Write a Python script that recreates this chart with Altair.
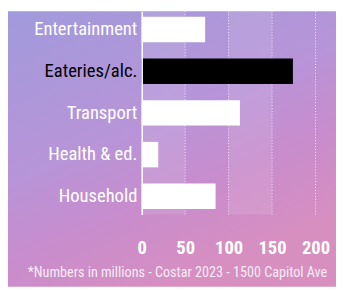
import altair as alt
import pandas as pd

categories = ["Entertainment", "Eateries/alc.", "Transport", "Health & ed.", "Household"]
values = [73, 174, 113, 19, 85]
highlight = "Eateries/alc."
x_ticks = [0, 50, 100, 150, 200]
grid_values = [50, 100, 150, 200]
band_starts = [0, 100]
band_ends = [50, 150]
footnote = "*Numbers in millions - Costar 2023 - 1500 Capitol Ave"

df = pd.DataFrame({"category": categories, "value": values})

W, H = 178, 208
PAD_L, PAD_T, PAD_R, PAD_B = 137, 0, 21, 74
TOTAL_W, TOTAL_H = PAD_L + W + PAD_R, PAD_T + H + PAD_B

COND = "Roboto Condensed"

xscale = alt.Scale(domain=[0, 200], nice=False)
x_axis = alt.Axis(
    values=x_ticks, title=None, grid=False, domain=False, ticks=False,
    labelFont=COND, labelFontWeight="bold", labelFontSize=19,
    labelColor="white", labelPadding=25, labelFlush=False, zindex=1,
)

bg = alt.Chart(alt.Data(values=[{}])).mark_rect(
    fill={
        "gradient": "linear",
        "x1": 0, "y1": 0, "x2": 0.5, "y2": 1,
        "stops": [
            {"offset": 0, "color": "#a09adc"},
            {"offset": 0.5, "color": "#b894d8"},
            {"offset": 0.75, "color": "#c98ccc"},
            {"offset": 1, "color": "#d78fc0"},
        ],
    }
).encode(
    x=alt.value(-PAD_L), x2=alt.value(TOTAL_W - PAD_L),
    y=alt.value(-PAD_T), y2=alt.value(TOTAL_H - PAD_T),
)

bands = alt.Chart(pd.DataFrame({"s": band_starts, "e": band_ends})).mark_rect(
    color="white", opacity=0.1
).encode(
    x=alt.X("s:Q", scale=xscale, axis=x_axis), x2="e:Q",
    y=alt.value(0), y2=alt.value(H),
)

grid = alt.Chart(pd.DataFrame({"g": grid_values})).mark_rule(
    color="white", strokeDash=[1, 2], strokeWidth=1, opacity=0.85
).encode(
    x=alt.X("g:Q", scale=xscale, axis=x_axis),
    y=alt.value(0), y2=alt.value(H),
)

bars = alt.Chart(df).mark_bar().encode(
    y=alt.Y(
        "category:N", sort=categories,
        scale=alt.Scale(paddingInner=0.39, paddingOuter=0.128),
        axis=alt.Axis(
            title=None, ticks=False, grid=False,
            labelColor=alt.expr(f"datum.value == '{highlight}' ? 'black' : 'white'"),
            labelFont=COND, labelFontSize=19, labelPadding=5,
            domainColor="white", domainWidth=1.5, zindex=1,
        ),
    ),
    x=alt.X("value:Q", scale=xscale, axis=x_axis),
    color=alt.when(alt.datum.category == highlight)
    .then(alt.value("black"))
    .otherwise(alt.value("white")),
)

note = alt.Chart(alt.Data(values=[{"t": footnote}])).mark_text(
    align="right", baseline="alphabetic", font=COND, fontSize=14.5, color="#f6ecf6"
).encode(
    text="t:N",
    x=alt.value(W + 12),
    y=alt.value(272),
)

chart = alt.layer(bg, bands, grid, bars, note).properties(
    width=W, height=H,
    padding={"left": PAD_L, "top": PAD_T, "right": PAD_R, "bottom": PAD_B},
    autosize=alt.AutoSizeParams(type="none"),
).configure_view(stroke=None)

chart.save("out.html", embed_options={"renderer": "svg", "actions": False})
